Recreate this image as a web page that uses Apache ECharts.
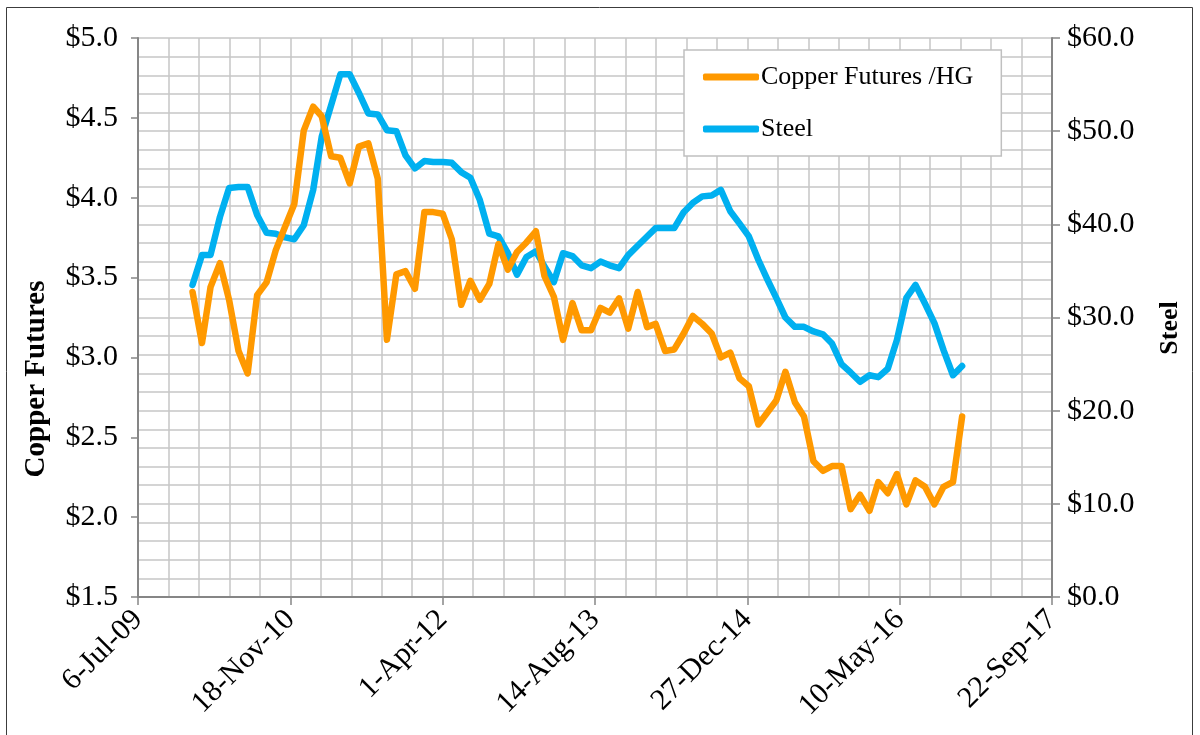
<!DOCTYPE html>
<html>
<head>
<meta charset="utf-8">
<script src="https://cdn.jsdelivr.net/npm/echarts@6/dist/echarts.min.js"></script>
<style>
  html, body { margin: 0; padding: 0; background: #fff; }
  #main { width: 1200px; height: 735px; }
</style>
</head>
<body>
<div id="main"></div>
<script>
// 数据：月度 2010-01 ~ 2016-12
var startYear = 2010;
var monthCount = 84;

// 铜期货 ($/lb)
var copper = [
  3.41, 3.09, 3.44, 3.59, 3.36, 3.04, 2.90, 3.39, 3.47, 3.67, 3.82, 3.96,
  4.42, 4.57, 4.51, 4.26, 4.25, 4.09, 4.32, 4.34, 4.12, 3.11, 3.52, 3.54,
  3.43, 3.91, 3.91, 3.90, 3.74, 3.33, 3.48, 3.36, 3.46, 3.71, 3.55, 3.66,
  3.72, 3.79, 3.51, 3.38, 3.11, 3.34, 3.17, 3.17, 3.31, 3.28, 3.37, 3.18,
  3.41, 3.19, 3.21, 3.04, 3.05, 3.15, 3.26, 3.21, 3.15, 3.00, 3.03, 2.87,
  2.82, 2.58, 2.65, 2.73, 2.91, 2.72, 2.63, 2.35, 2.29, 2.32, 2.32, 2.05,
  2.14, 2.04, 2.22, 2.15, 2.27, 2.08, 2.23, 2.19, 2.08, 2.19, 2.22, 2.63
];

// 钢
var steel = [
  33.5, 36.7, 36.7, 40.8, 43.9, 44.0, 44.0, 41.0, 39.1, 39.0, 38.6, 38.4,
  39.9, 43.7, 49.4, 52.8, 56.1, 56.1, 54.1, 51.9, 51.8, 50.1, 50.0, 47.4,
  46.0, 46.8, 46.7, 46.7, 46.6, 45.6, 45.0, 42.6, 39.0, 38.7, 36.9, 34.6,
  36.5, 37.1, 35.5, 33.8, 36.9, 36.6, 35.6, 35.3, 36.0, 35.6, 35.3, 36.7,
  37.7, 38.7, 39.6, 39.6, 39.6, 41.3, 42.3, 43.0, 43.1, 43.7, 41.4, 40.1,
  38.7, 36.2, 34.2, 32.1, 30.0, 29.0, 29.0, 28.5, 28.2, 27.2, 25.0, 24.1,
  23.1, 23.8, 23.6, 24.5, 27.6, 32.1, 33.5, 31.5, 29.4, 26.5, 23.8, 24.8
];

var seriesNames = ['Copper Futures /HG', 'Steel'];
var monthNames = ['Jan', 'Feb', 'Mar', 'Apr', 'May', 'Jun', 'Jul', 'Aug', 'Sep', 'Oct', 'Nov', 'Dec'];

// Excel 序列日期
var DAY = 86400000;
var EPOCH = Date.UTC(1899, 11, 30);
function toSerial(y, m) {
  return Math.round((Date.UTC(y, m, 1) - EPOCH) / DAY);
}
function fmtSerial(v) {
  var d = new Date(EPOCH + v * DAY);
  var yy = String(d.getUTCFullYear() % 100);
  if (yy.length < 2) yy = '0' + yy;
  return d.getUTCDate() + '-' + monthNames[d.getUTCMonth()] + '-' + yy;
}

var dates = [];
for (var i = 0; i < monthCount; i++) {
  dates.push(toSerial(startYear + Math.floor(i / 12), i % 12));
}
var copperData = dates.map(function (d, i) { return [d, copper[i]]; });
var steelData = dates.map(function (d, i) { return [d, steel[i]]; });

var font = '"Liberation Serif", "Times New Roman", serif';
var gridColor = '#c6c6c6';
var axisColor = '#868686';

var chart = echarts.init(document.getElementById('main'));
var option = {
  backgroundColor: '#fff',
  animation: false,
  textStyle: { fontFamily: font },
  grid: { left: 138, right: 148, top: 38, bottom: 138 },
  legend: {
    orient: 'vertical',
    left: 684,
    top: 50,
    padding: [14, 28, 14, 19],
    itemGap: 26,
    itemWidth: 56,
    itemHeight: 7,
    icon: 'roundRect',
    borderColor: '#c0c0c0',
    borderWidth: 1.5,
    backgroundColor: '#fff',
    textStyle: { fontFamily: font, fontSize: 26, color: '#000', padding: [0, 0, 0, -3] },
    data: seriesNames
  },
  xAxis: {
    type: 'value',
    min: 40000,
    max: 43000,
    interval: 500,
    axisLine: { lineStyle: { color: axisColor, width: 2 } },
    axisTick: { show: true, length: 8, lineStyle: { color: axisColor, width: 1.5 } },
    axisLabel: {
      rotate: 45,
      margin: 18,
      fontFamily: font,
      fontSize: 30,
      color: '#000',
      formatter: fmtSerial
    },
    splitLine: { show: true, lineStyle: { color: gridColor, width: 1.5 } },
    minorTick: { show: false, splitNumber: 5 },
    minorSplitLine: { show: true, lineStyle: { color: gridColor, width: 1.5 } }
  },
  yAxis: [
    {
      type: 'value',
      min: 1.5,
      max: 5,
      interval: 0.5,
      axisLine: { show: true, lineStyle: { color: axisColor, width: 2 } },
      axisTick: { show: true, length: 7, lineStyle: { color: axisColor, width: 1.5 } },
      axisLabel: {
        margin: 20,
        fontFamily: font,
        fontSize: 30,
        color: '#000',
        formatter: function (v) { return '$' + v.toFixed(1); }
      },
      splitLine: { show: false }
    },
    {
      type: 'value',
      min: 0,
      max: 60,
      interval: 10,
      position: 'right',
      axisLine: { show: true, lineStyle: { color: axisColor, width: 2 } },
      axisTick: { show: true, length: 8, lineStyle: { color: axisColor, width: 1.5 } },
      axisLabel: {
        margin: 15,
        fontFamily: font,
        fontSize: 30,
        color: '#000',
        formatter: function (v) { return '$' + v.toFixed(1); }
      },
      splitLine: { show: true, lineStyle: { color: gridColor, width: 1.5 } },
      minorTick: { show: false, splitNumber: 5 },
      minorSplitLine: { show: true, lineStyle: { color: gridColor, width: 1.5 } }
    }
  ],
  graphic: [
    {
      type: 'rect',
      shape: { x: 6.5, y: 7.5, width: 1186, height: 740 },
      style: { fill: 'none', stroke: '#3c3c3c', lineWidth: 1 },
      silent: true
    },
    {
      type: 'text',
      x: 37,
      y: 379,
      rotation: Math.PI / 2,
      style: {
        text: 'Copper Futures',
        font: 'bold 29px ' + font,
        fill: '#000',
        align: 'center',
        verticalAlign: 'middle'
      }
    },
    {
      type: 'text',
      x: 1170,
      y: 328,
      rotation: Math.PI / 2,
      style: {
        text: 'Steel',
        font: 'bold 26px ' + font,
        fill: '#000',
        align: 'center',
        verticalAlign: 'middle'
      }
    }
  ],
  series: [
    {
      name: seriesNames[0],
      type: 'line',
      yAxisIndex: 0,
      data: copperData,
      symbol: 'none',
      color: '#FF9900',
      lineStyle: { width: 6.5, color: '#FF9900', cap: 'round', join: 'round' },
      z: 3
    },
    {
      name: seriesNames[1],
      type: 'line',
      yAxisIndex: 1,
      data: steelData,
      symbol: 'none',
      color: '#00B0F0',
      lineStyle: { width: 6.5, color: '#00B0F0', cap: 'round', join: 'round' },
      z: 2
    }
  ]
};

chart.setOption(option);
window.addEventListener('resize', function () {
  chart.resize();
});
</script>
</body>
</html>
